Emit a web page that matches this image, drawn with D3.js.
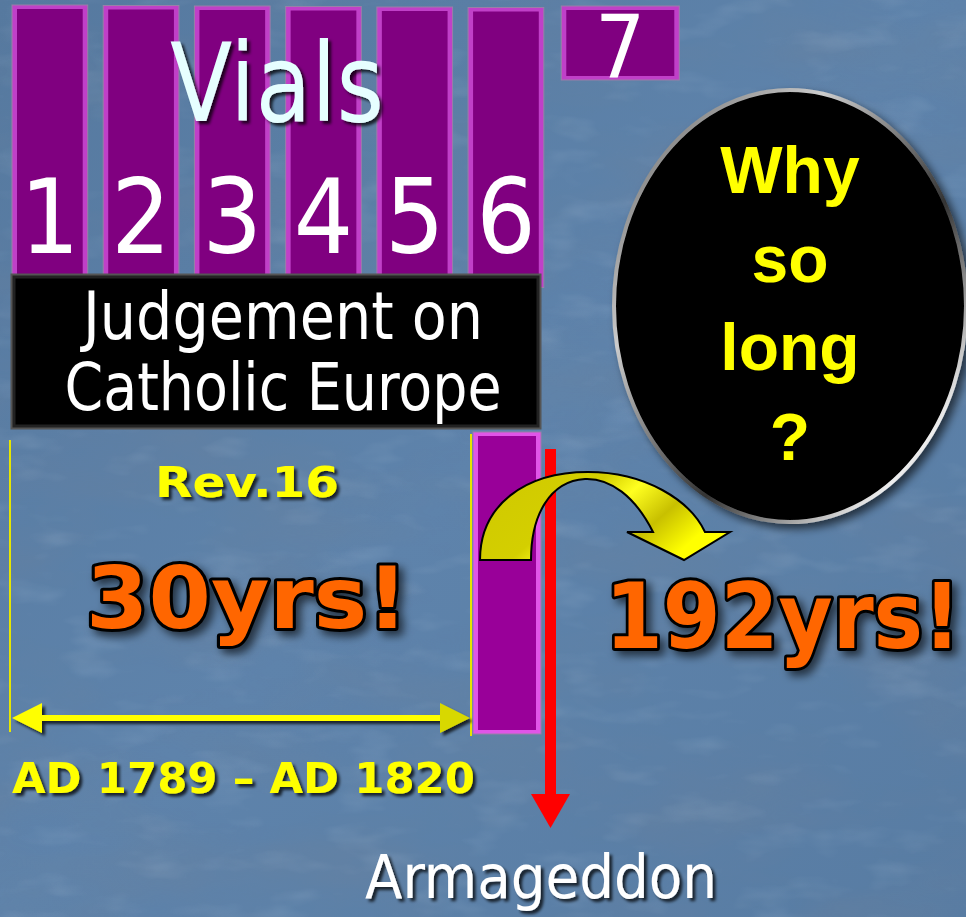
<!DOCTYPE html>
<html><head><meta charset="utf-8">
<script src="https://cdn.jsdelivr.net/npm/d3@7"></script>
<style>html,body{margin:0;padding:0;background:#5b7fa6;overflow:hidden}</style>
</head><body>
<script>
// ---- data ----
const vialLabels = ["1","2","3","4","5","6","7"];
const titleText = "Vials";
const boxLines = ["Judgement on","Catholic Europe"];
const questionLines = ["Why","so","long","?"];
const periodYears = [1789, 1820];
const durations = ["30yrs!", "192yrs!"];
const refText = "Rev.16";
const endText = "Armageddon";

const W = 966, H = 917;
const svg = d3.select("body").append("svg").attr("width", W).attr("height", H);
const defs = svg.append("defs");

// background texture
const tf = defs.append("filter").attr("id","tex").attr("x",0).attr("y",0).attr("width","100%").attr("height","100%");
tf.append("feTurbulence").attr("type","fractalNoise").attr("baseFrequency","0.005 0.012").attr("numOctaves",4).attr("seed",7).attr("result","n");
tf.append("feColorMatrix").attr("in","n").attr("type","matrix")
  .attr("values","0 0 0 0 0.15  0 0 0 0 0.22  0 0 0 0 0.33  -1.6 0 0 0 0.95").attr("result","dark");
const tf2 = defs.append("filter").attr("id","tex2").attr("x",0).attr("y",0).attr("width","100%").attr("height","100%");
tf2.append("feTurbulence").attr("type","fractalNoise").attr("baseFrequency","0.015 0.04").attr("numOctaves",3).attr("seed",3).attr("result","n");
tf2.append("feColorMatrix").attr("in","n").attr("type","matrix")
  .attr("values","0 0 0 0 0.75  0 0 0 0 0.85  0 0 0 0 0.95  1.8 0 0 0 -0.95");

const bg = defs.append("linearGradient").attr("id","bgg").attr("x1",0).attr("y1",0).attr("x2",1).attr("y2",1);
bg.append("stop").attr("offset",0).attr("stop-color","#56799f");
bg.append("stop").attr("offset",0.5).attr("stop-color","#5e83ab");
bg.append("stop").attr("offset",1).attr("stop-color","#587ca3");
svg.append("rect").attr("width",W).attr("height",H).attr("fill","url(#bgg)");
svg.append("rect").attr("width",W).attr("height",H).attr("filter","url(#tex)").attr("opacity",0.5);
svg.append("rect").attr("width",W).attr("height",H).attr("filter","url(#tex2)").attr("opacity",0.15);

// shadow filters
const sh = defs.append("filter").attr("id","sh").attr("x","-10%").attr("y","-10%").attr("width","130%").attr("height","130%");
sh.append("feDropShadow").attr("dx",3).attr("dy",3).attr("stdDeviation",1.5).attr("flood-color","#000").attr("flood-opacity",0.75);
const sh2 = defs.append("filter").attr("id","sh2").attr("x","-10%").attr("y","-10%").attr("width","130%").attr("height","130%");
sh2.append("feDropShadow").attr("dx",5).attr("dy",5).attr("stdDeviation",4).attr("flood-color","#000").attr("flood-opacity",0.6);

// ---- vial bars ----
const x = d3.scaleBand().domain(vialLabels).range([12, 635]).paddingInner(0.17).paddingOuter(0);
function bevelBar(g, x0, y0, w, h, dark, light){
  g.append("rect").attr("x",x0).attr("y",y0).attr("width",w).attr("height",h).attr("fill",light).attr("stroke","#9a7fa8").attr("stroke-width",1);
  g.append("rect").attr("x",x0+5).attr("y",y0+4).attr("width",w-10).attr("height",h-8).attr("fill",dark);
}
const bars = svg.append("g");
vialLabels.slice(0,6).forEach((v,i)=>{
  bevelBar(bars, x(v), 5 + i*0.5, x.bandwidth(), 280, "#800080", "#c040c8");
});
// vial 7 box
bevelBar(bars, x("7")+2, 6, 118, 74, "#800080", "#c040c8");
svg.append("text").attr("x", x("7")+2+59).attr("y",78).attr("text-anchor","middle")
  .attr("font-family","DejaVu Sans Condensed, DejaVu Sans").attr("font-size",88).attr("fill","#fff").text(vialLabels[6]);

// title
svg.append("text").attr("x",277).attr("y",121).attr("text-anchor","middle")
  .attr("font-family","DejaVu Sans Condensed, DejaVu Sans").attr("font-size",108).attr("fill","#e6ffff")
  .attr("filter","url(#sh)").attr("textLength",214).attr("lengthAdjust","spacingAndGlyphs").text(titleText);

// numbers
svg.append("g").selectAll("text").data(vialLabels.slice(0,6)).join("text")
  .attr("x", d=>x(d)+x.bandwidth()/2).attr("y",253).attr("text-anchor","middle")
  .attr("font-family","DejaVu Sans Condensed, DejaVu Sans").attr("font-size",104).attr("fill","#fff").text(d=>d);

// black box
svg.append("rect").attr("x",12).attr("y",275).attr("width",528).attr("height",153).attr("fill","#000")
  .attr("stroke","#555").attr("stroke-width",3);
svg.append("rect").attr("x",14).attr("y",277).attr("width",524).attr("height",149).attr("fill","none")
  .attr("stroke","#222").attr("stroke-width",3);
const boxTextY = [339, 410], boxTextW = [400, 437];
svg.append("g").selectAll("text").data(boxLines).join("text")
  .attr("x",283).attr("y",(d,i)=>boxTextY[i]).attr("text-anchor","middle")
  .attr("font-family","DejaVu Sans Condensed, DejaVu Sans").attr("font-size",66).attr("fill","#fff")
  .attr("textLength",(d,i)=>boxTextW[i]).attr("lengthAdjust","spacingAndGlyphs").text(d=>d);

// ellipse
const rim = defs.append("linearGradient").attr("id","rim").attr("x1",0).attr("y1",0).attr("x2",1).attr("y2",1);
rim.append("stop").attr("offset",0).attr("stop-color","#555");
rim.append("stop").attr("offset",0.3).attr("stop-color","#ccc");
rim.append("stop").attr("offset",0.6).attr("stop-color","#333");
rim.append("stop").attr("offset",0.85).attr("stop-color","#eee");
rim.append("stop").attr("offset",1).attr("stop-color","#444");
svg.append("ellipse").attr("cx",790).attr("cy",306).attr("rx",176).attr("ry",216)
  .attr("fill","#000").attr("stroke","url(#rim)").attr("stroke-width",4).attr("filter","url(#sh2)");
const qY = [193, 282, 370, 460];
svg.append("g").selectAll("text").data(questionLines).join("text")
  .attr("x",790).attr("y",(d,i)=>qY[i]).attr("text-anchor","middle")
  .attr("font-family","Liberation Sans, Arial").attr("font-weight","bold").attr("font-size",66).attr("fill","#ffff00").text(d=>d);

// left bracket + labels
svg.append("line").attr("x1",10).attr("x2",10).attr("y1",440).attr("y2",732).attr("stroke","#e6e600").attr("stroke-width",2);
svg.append("line").attr("x1",471).attr("x2",471).attr("y1",434).attr("y2",736).attr("stroke","#e6e600").attr("stroke-width",2);

svg.append("text").attr("x",247).attr("y",497).attr("text-anchor","middle")
  .attr("font-family","DejaVu Sans").attr("font-weight","bold").attr("font-size",42).attr("fill","#ffff00")
  .attr("filter","url(#sh)").attr("textLength",184).attr("lengthAdjust","spacingAndGlyphs").text(refText);

function outlined(txt, cx, y, size, len){
  svg.append("text").attr("x",cx).attr("y",y).attr("text-anchor","middle")
    .attr("font-family","DejaVu Sans").attr("font-weight","bold").attr("font-size",size)
    .attr("fill","#ff6600").attr("stroke","#000").attr("stroke-width",6).attr("stroke-linejoin","round")
    .attr("paint-order","stroke").attr("filter","url(#sh2)")
    .attr("textLength",len).attr("lengthAdjust","spacingAndGlyphs").text(txt);
}
outlined(durations[0], 247, 628, 86, 322);
outlined(durations[1], 783, 648, 90, 356);

// double arrow
const ax = d3.scaleLinear().domain(periodYears).range([12, 470]);
const arrowG = svg.append("g").attr("filter","url(#sh)");
arrowG.append("line").attr("x1",ax(periodYears[0])+20).attr("x2",ax(periodYears[1])-20).attr("y1",718).attr("y2",718)
  .attr("stroke","#ffff00").attr("stroke-width",6);
arrowG.append("path").attr("d",`M${ax(periodYears[0])},718 L${ax(periodYears[0])+30},703 L${ax(periodYears[0])+30},733 Z`).attr("fill","#ffff00");
arrowG.append("path").attr("d",`M${ax(periodYears[1])},718 L${ax(periodYears[1])-30},703 L${ax(periodYears[1])-30},733 Z`).attr("fill","#d8d800");

svg.append("text").attr("x",12).attr("y",793)
  .attr("font-family","DejaVu Sans").attr("font-weight","bold").attr("font-size",42).attr("fill","#ffff00")
  .attr("filter","url(#sh)").attr("textLength",463).attr("lengthAdjust","spacingAndGlyphs")
  .text(`AD ${periodYears[0]} – AD ${periodYears[1]}`);

// lower vial 6 bar
bevelBar(svg.append("g"), 473, 432, 68, 302, "#990099", "#e055e8");

// red arrow
svg.append("rect").attr("x",545).attr("y",449).attr("width",11).attr("height",350).attr("fill","#ff0000");
svg.append("path").attr("d","M531,794 L570,794 L550.5,828 Z").attr("fill","#ff0000");

// curved arrow
const ca = defs.append("linearGradient").attr("id","ca").attr("x1",0).attr("y1",0).attr("x2",1).attr("y2",0.4);
ca.append("stop").attr("offset",0).attr("stop-color","#cfc800");
ca.append("stop").attr("offset",0.45).attr("stop-color","#d4cf00");
ca.append("stop").attr("offset",0.6).attr("stop-color","#ffff20");
ca.append("stop").attr("offset",0.8).attr("stop-color","#c8c000");
ca.append("stop").attr("offset",1).attr("stop-color","#ffff00");
svg.append("path")
  .attr("d","M480,560 C480,505 525,472 588,472 C645,472 690,500 705,532 L730,532 L684,560 L627,532 L653,532 C635,496 610,478 585,479 C550,481 531,515 531,560 Z")
  .attr("fill","url(#ca)").attr("stroke","#000").attr("stroke-width",2).attr("stroke-linejoin","miter");

// Armageddon
svg.append("text").attr("x",541).attr("y",898).attr("text-anchor","middle")
  .attr("font-family","DejaVu Sans Condensed, DejaVu Sans").attr("font-size",60).attr("fill","#fff")
  .attr("filter","url(#sh)").attr("textLength",352).attr("lengthAdjust","spacingAndGlyphs").text(endText);
</script>
</body></html>
